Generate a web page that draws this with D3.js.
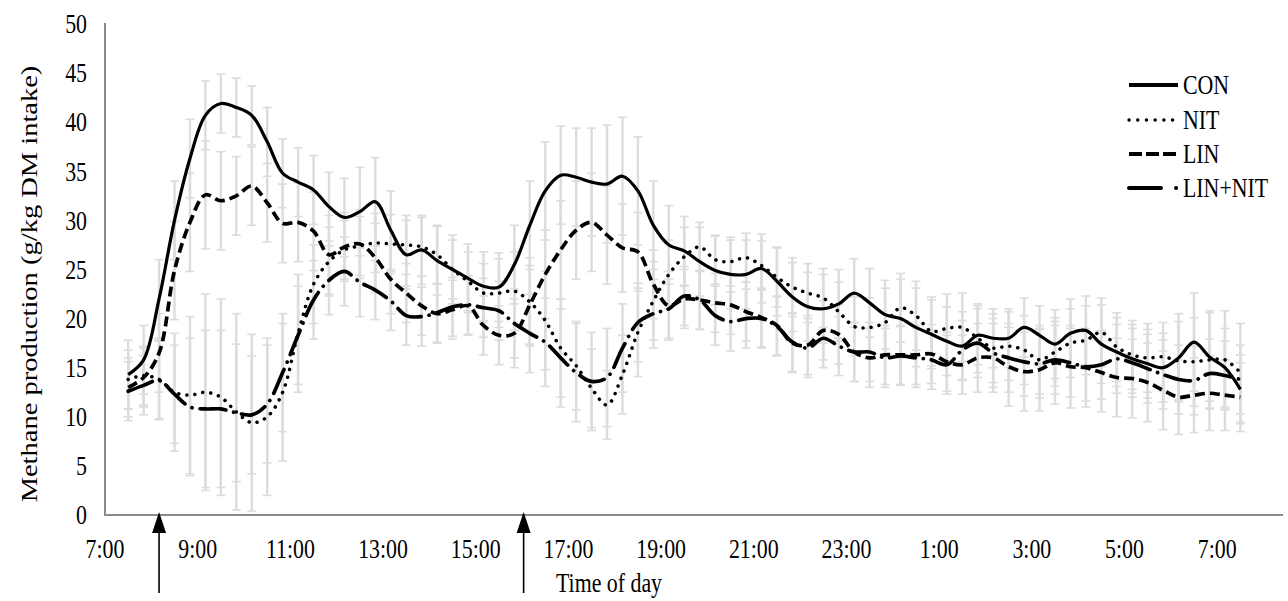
<!DOCTYPE html>
<html><head><meta charset="utf-8">
<script src="https://cdn.jsdelivr.net/npm/d3@7"></script>
<style>
body{margin:0;background:#fff}
svg{display:block}
text{font-family:"Liberation Serif","Times New Roman",serif;fill:#000}
</style>
</head><body>
<svg id="chart" width="1288" height="601"></svg>
<script>
// ---- data ----
const sampleTimes = ["7:30","7:50","8:10","8:30","8:50","9:10","9:30","9:50","10:10","10:30","10:50","11:10","11:30","11:50","12:10","12:30","12:50","13:10","13:30","13:50","14:10","14:30","14:50","15:10","15:30","15:50","16:10","16:30","16:50","17:10","17:30","17:50","18:10","18:30","18:50","19:10","19:30","19:50","20:10","20:30","20:50","21:10","21:30","21:50","22:10","22:30","22:50","23:10","23:30","23:50","0:10","0:30","0:50","1:10","1:30","1:50","2:10","2:30","2:50","3:10","3:30","3:50","4:10","4:30","4:50","5:10","5:30","5:50","6:10","6:30","6:50","7:10","7:30"];

const con = [14.3,15.8,22.0,30.0,36.3,40.7,41.9,41.5,40.7,38.0,
  34.8,33.9,33.1,31.4,30.3,30.9,31.9,29.0,26.5,27.0,
  25.9,25.0,24.1,23.3,23.2,25.5,29.5,33.0,34.6,34.4,
  33.9,33.7,34.5,33.0,29.5,27.5,26.9,25.8,24.9,24.5,
  24.5,25.1,23.8,22.2,21.2,21.0,21.5,22.6,21.6,20.4,
  20.0,19.1,18.4,17.7,17.2,18.3,18.0,18.0,19.1,18.3,
  17.4,18.5,18.8,17.4,16.6,15.9,15.4,15.0,16.0,17.6,
  16.1,15.0,12.8];
const nit = [13.8,14.2,13.8,12.5,12.2,12.5,12.0,10.5,9.4,10.0,
  12.5,18.5,23.5,25.8,27.0,27.4,27.7,27.6,27.5,27.3,
  26.5,25.0,23.8,22.6,22.6,22.8,21.7,19.8,17.0,15.2,
  12.9,11.2,14.3,18.6,21.8,24.5,26.3,27.3,26.0,25.8,
  26.2,25.4,24.2,23.2,22.6,22.1,20.7,19.2,19.1,19.6,
  21.1,20.3,18.7,19.0,19.1,18.0,17.0,17.2,16.8,15.8,
  16.6,17.5,17.8,18.6,17.1,16.3,16.0,16.1,15.7,15.6,
  15.8,15.8,14.5];
const lin = [13.0,14.0,16.5,24.9,29.8,32.6,32.0,32.5,33.5,31.8,
  29.7,29.8,28.9,26.5,27.3,27.6,26.2,24.0,22.6,21.3,
  20.5,20.9,21.3,19.3,18.3,18.5,21.4,24.5,27.0,29.0,
  29.8,28.5,27.2,26.8,23.5,21.3,22.0,21.9,21.6,21.4,
  20.7,20.1,19.3,17.5,17.3,18.8,18.4,16.6,16.0,16.3,
  16.3,16.3,16.4,15.6,15.3,16.0,16.0,15.1,14.6,14.8,
  15.5,15.1,15.0,14.5,14.0,13.9,13.5,12.7,12.0,12.2,
  12.4,12.2,12.0];
const linNit = [12.6,13.2,13.7,12.3,11.0,10.8,10.8,10.4,10.2,11.3,
  14.5,18.3,21.9,23.9,24.8,23.7,22.9,21.8,20.3,20.2,
  20.6,21.2,21.4,21.1,20.8,19.5,18.5,17.6,16.0,14.5,
  13.6,14.0,17.0,19.6,20.5,21.0,22.3,21.9,20.3,19.7,
  20.0,20.0,19.2,17.6,17.0,18.0,17.2,16.6,16.6,16.0,
  16.2,16.0,15.8,15.3,16.8,17.5,16.5,16.0,15.6,15.4,
  15.8,15.5,15.1,15.3,15.9,15.5,14.9,14.3,13.8,13.7,
  14.4,14.2,13.8];

const conSd = [3.5,3.5,4,4,4,3.5,3,3,3,3.5,
  3.5,3.5,3.5,3.5,4,4.5,4.5,4,3.5,3.5,
  3.5,3.5,3.5,3.5,3.5,4,4.5,5,5,5,
  5.5,6,6,5.5,4.5,4,3.5,3.5,3.5,3.5,
  3.5,3.5,3.5,3.5,3.5,3.5,3.5,3.5,3.5,3.5,
  4,4,3.5,3.5,3.5,3,3,3,3,3,
  3.5,3.5,3.5,4,3.5,3.5,3.5,3.5,4.5,5,
  4.5,4,3.5];
const nitSd = [3,3,4,6,8,10,10,10,9,8,
  7,6,4,3.5,3,3,3,3,3,3,
  3,3,3,3,3.5,4,4.5,5,5,4.5,
  4,3.5,4,4.5,4,3.5,3,2.5,2.5,2.5,
  2.5,2.5,3,3,3,3,3,3,3,3.5,
  3.5,3.5,3.5,3.5,3.5,3.5,3.5,3.5,3.5,3.5,
  3.5,3.5,3.5,3.5,3.5,3.5,3.5,3.5,4,4.5,
  5,5,5];
const linSd = [3,3,4,5,5,5.5,5,4,4,4,
  4,4,4,4,3.5,3.5,3.5,3.5,3,3,
  3,3,3,3,3,3.5,4,4.5,5,5,
  5,5,4.5,4,3.5,3.5,3,3,3,3,
  3,3,3,3,3,3,3,3,3,3,
  3,3,3,3,3,3.5,3.5,4,4,4.2,
  4.2,4.2,4,4,4,4,4,4,3.8,3.8,
  3.8,3.6,3.5];
const linNitSd = [3,3,4,5,7,8,8,7,6,6,
  6,5,4,3.5,3.5,3.5,3,3,3,3,
  3,3,3,3,3,3.5,4,4.5,5,5,
  5,5,4.5,4,3.5,3,3,3,3,3,
  3,3,3,3,3,3,3,3,3,3,
  3,3,3,3,3,3.5,3.5,3.5,3.5,3.5,
  3.5,3.5,3.5,3.5,3.5,3.5,3.5,3.5,3.5,3.5,
  3.5,3.5,3.5];

const seriesNames = ["CON","NIT","LIN","LIN+NIT"];
const xTickLabels = ["7:00","9:00","11:00","13:00","15:00","17:00","19:00","21:00","23:00","1:00","3:00","5:00","7:00"];
const yTickValues = [0,5,10,15,20,25,30,35,40,45,50];
const feedTimes = ["8:10","16:02"];
const xTitle = "Time of day";
const yTitle = "Methane production (g/kg DM intake)";

// ---- helpers ----
function toHour(s){const [h,m]=s.split(":").map(Number);return h+m/60;}
function toHoursSeq(arr){let prev=-1,off=0;return arr.map(s=>{let h=toHour(s);if(h+off<prev)off+=24;prev=h+off;return h+off;});}
const hours = toHoursSeq(sampleTimes);
const tickHours = toHoursSeq(xTickLabels);
const feedHours = feedTimes.map(toHour);

const svg = d3.select("#chart");
const x = d3.scaleLinear().domain([7, 32.42]).range([105, 1283]);
const y = d3.scaleLinear().domain([0, 50]).range([515, 24]);

const series = [
  {name:seriesNames[0], v:con, sd:conSd, dash:null, w:3.2},
  {name:seriesNames[1], v:nit, sd:nitSd, dash:"0.1 8", w:3.5, cap:"round"},
  {name:seriesNames[2], v:lin, sd:linSd, dash:"10 5", w:3.7},
  {name:seriesNames[3], v:linNit, sd:linNitSd, dash:"26 8 0.1 8", w:3.7, cap:"round"}
];

// error bars
const eb = svg.append("g").attr("stroke","#dcdcdc").attr("fill","none");
series.forEach(s=>{
  s.v.forEach((v,i)=>{
    const cx=x(hours[i]), y0=y(v-s.sd[i]), y1=y(v+s.sd[i]);
    eb.append("line").attr("x1",cx).attr("x2",cx).attr("y1",y0).attr("y2",y1).attr("stroke-width",2.4);
    eb.append("line").attr("x1",cx-4.5).attr("x2",cx+4.5).attr("y1",y0).attr("y2",y0).attr("stroke-width",1.6);
    eb.append("line").attr("x1",cx-4.5).attr("x2",cx+4.5).attr("y1",y1).attr("y2",y1).attr("stroke-width",1.6);
  });
});

// axes (spines)
const axisColor="#8a8a8a";
svg.append("line").attr("x1",x(7)).attr("x2",x(7)).attr("y1",y(50)-1).attr("y2",y(0)).attr("stroke",axisColor).attr("stroke-width",2);
svg.append("line").attr("x1",x(7)-1).attr("x2",x(32.42)).attr("y1",y(0)).attr("y2",y(0)).attr("stroke",axisColor).attr("stroke-width",2);

// lines
const line = d3.line().x((d,i)=>x(hours[i])).y(d=>y(d)).curve(d3.curveCatmullRom.alpha(0.5));
series.forEach(s=>{
  svg.append("path").attr("d",line(s.v)).attr("fill","none").attr("stroke","#000")
    .attr("stroke-width",s.w).attr("stroke-dasharray",s.dash)
    .attr("stroke-linecap",s.cap||"butt").attr("stroke-linejoin","round");
});

// text helper (reference text is tall and narrow)
const FS = 27, SX = 0.81;
function txt(px,py,s,anchor){
  return svg.append("text").attr("transform",`translate(${px},${py}) scale(${SX},1)`)
    .attr("text-anchor",anchor).style("font-size",FS+"px").text(s);
}
yTickValues.forEach(v=>txt(87, y(v)+9.2, String(v), "end"));
xTickLabels.forEach((l,i)=>txt(x(tickHours[i]), 558, l, "middle"));
txt(609, 592, xTitle, "middle");
svg.append("text").attr("transform","translate(37,284) rotate(-90) scale(1,0.79)")
  .attr("text-anchor","middle").style("font-size","28.5px").text(yTitle);

// feeding arrows
feedHours.forEach(h=>{
  const ax=x(h);
  svg.append("line").attr("x1",ax).attr("x2",ax).attr("y1",593).attr("y2",528).attr("stroke","#000").attr("stroke-width",1.6);
  svg.append("path").attr("d",`M${ax},512 L${ax-7},533 L${ax+7},533 Z`).attr("fill","#000");
});

// legend
const legY=[85,120,154,188];
const legDash=[null,"0.1 8.6","13 4","32 15 0.1 30"];
series.forEach((s,i)=>{
  svg.append("line").attr("x1",1129).attr("x2",1178).attr("y1",legY[i]).attr("y2",legY[i])
    .attr("stroke","#000").attr("stroke-width",i===1?3.4:4).attr("stroke-dasharray",legDash[i])
    .attr("stroke-linecap",(i===1||i===3)?"round":"butt");
  txt(1183, legY[i]+9.2, s.name, "start");
});
</script>
</body></html>
